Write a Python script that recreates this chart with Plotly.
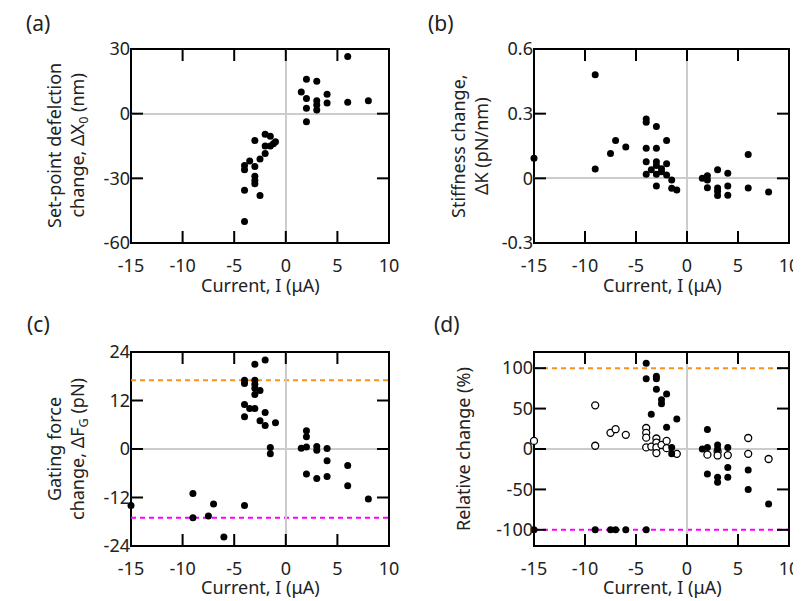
import plotly.graph_objects as go

# ---------------- data ----------------
# (a) set-point deflection change (nm)
a_x = [6, 2, 3, 1.5, 4, 2, 3, 3, 4, 6, 8, 2, 3, 2,
       -2, -1.5, -3, -1, -1.2, -1.5, -2, -2, -2.5, -3.5, -3, -4, -4, -3, -3, -3, -4, -2.5, -4]
a_y = [26.5, 16, 15, 10, 9, 7, 6, 4, 5, 5.3, 6, 2.5, 1.7, -3.7,
       -9.5, -10.5, -12.5, -13, -14, -15, -15, -18.5, -21, -22, -24.5, -24, -26, -29, -31, -32.5, -35.5, -38, -50]

# (b) stiffness change (pN/nm)
b_x = [-15, -9, -9, -4, -4, -3, -7, -2, -6, -4, -3, -7.5, 6, -4, -3, -2, -3, -2.5, -3.5, -2.5,
       -4, -3, -2, -1.5, -3, -1.5, -1,
       1.5, 2, 2, 2, 3, 4, 3, 3, 3, 4, 4, 6, 8]
b_y = [0.093, 0.48, 0.043, 0.275, 0.26, 0.24, 0.175, 0.175, 0.145, 0.14, 0.14, 0.115, 0.11, 0.077, 0.077, 0.068,
       0.06, 0.045, 0.04, 0.03,
       0.019, 0.019, 0.015, -0.008, -0.036, -0.046, -0.054,
       0.0, 0.012, -0.008, -0.044, 0.04, 0.024, -0.045, -0.06, -0.08, -0.035, -0.078, -0.045, -0.063]

# (c) gating force change (pN)
c_x = [-2, -3, -4, -4, -3, -3, -3, -3, -2.5, -4, -3.5, -3, -4, -2, -2.5, -2, -1, -1.5, -1.5,
       2, 2, 1.5, 2, 3, 3, 4, 4, 2, 3, 4, 6, 6, 8,
       -15, -9, -9, -7.5, -7, -6, -4]
c_y = [22, 21, 17, 16.2, 17, 16, 15, 13.5, 14.5, 11, 10, 10, 8, 9, 7, 5.8, 6.5, 0.4, -1.2,
       4.5, 3, 0.2, 0.5, 0.6, -0.3, 0.15, -2.9, -6.2, -7.3, -6.8, -4.1, -9.1, -12.4,
       -14, -11, -17, -16.6, -13.6, -21.8, -14]
c_upper = 17
c_lower = -17

# (d) relative change (%) : filled series and open series
d_fill_x = [-4, -4, -3, -3, -3, -2, -2.5, -2.5, -3.5, -1, -2, -1.5, -1.5,
            -15, -9, -7.5, -7, -6, -4,
            1.5, 2, 2, 2, 3, 3, 3, 3, 4, 4, 4, 6, 6, 8]
d_fill_y = [106, 87, 90, 87, 74, 68, 61, 56, 43, 37, 27, 2, -6,
            -100, -100, -100, -100, -100, -100,
            0, 24, 2, -31, 5, 0, -35, -41, 2, -23, -35, -26, -50, -68]
d_open_x = [-15, -9, -9, -7.5, -7, -6, -4, -4, -4, -4, -3.5, -3, -3, -3, -3, -2.5, -2, -2, -1,
            2, 3, 3, 4, 6, 6, 8]
d_open_y = [10, 54, 4, 20, 24.5, 17.5, 26, 20, 14, 2, 3, 13, 8, 2, -5, 5, 10, 1, -6,
            -7, -3, -8, -7.5, 13.6, -6, -12.4]
d_upper = 100
d_lower = -100

x_range = [-15, 10]
x_ticks = [-15, -10, -5, 0, 5, 10]
x_ticktext = ["-15", "-10", "-5", "0", "5", "10"]
a_range = [-60, 30]
a_ticks = [-60, -30, 0, 30]
a_ticktext = ["-60", "-30", "0", "30"]
b_range = [-0.3, 0.6]
b_ticks = [-0.3, 0, 0.3, 0.6]
b_ticktext = ["-0.3", "0", "0.3", "0.6"]
c_range = [-24, 24]
c_ticks = [-24, -12, 0, 12, 24]
c_ticktext = ["-24", "-12", "0", "12", "24"]
d_range = [-120, 120]
d_ticks = [-100, -50, 0, 50, 100]
d_ticktext = ["-100", "-50", "0", "50", "100"]

x_title = "Current, I (μA)"
# ---------------------------------------

OFF = 8  # page body margin of the html page
W, H = 801 - OFF, 601 - OFF
FONT = "Noto Sans"
TXT = "#222222"
ORANGE = "#F7941D"
MAGENTA = "#FF00FF"
TICKLEN = 12
CLEAR = "rgba(0,0,0,0)"

def px(xp):
    return (xp - OFF) / W

def py(yp):
    return 1 - (yp - OFF) / H

dom_x_left = [px(131), px(389)]
dom_x_right = [px(534), px(789)]
dom_y_top = [py(243), py(49)]
dom_y_bot = [py(546), py(352)]

fig = go.Figure()

def add_pts(x, y, xa, ya, open_=False):
    fig.add_trace(go.Scatter(
        x=x, y=y, mode="markers", xaxis=xa, yaxis=ya, cliponaxis=False,
        marker=dict(size=7, color="white" if open_ else "black", opacity=1,
                    line=dict(color="black", width=1.3 if open_ else 0)),
        showlegend=False))

add_pts(a_x, a_y, "x", "y")
add_pts(b_x, b_y, "x2", "y2")
add_pts(c_x, c_y, "x3", "y3")
add_pts(d_open_x, d_open_y, "x4", "y4", open_=True)
add_pts(d_fill_x, d_fill_y, "x4", "y4")

common_axis = dict(
    showline=False, ticks="", showgrid=False,
    zeroline=True, zerolinecolor="#cccccc", zerolinewidth=2,
    tickfont=dict(family=FONT, size=18, color=TXT), tickmode="array",
)

def xaxis(dom, anchor):
    return dict(common_axis, domain=dom, anchor=anchor, range=x_range,
                tickvals=x_ticks, ticktext=x_ticktext, ticklabelstandoff=10)

def yaxis(dom, anchor, rng, tv, tt):
    return dict(common_axis, domain=dom, anchor=anchor, range=rng,
                tickvals=tv, ticktext=tt, ticklabelstandoff=0)

fig.update_layout(
    template="none",
    width=W, height=H, margin=dict(l=0, r=0, t=0, b=0),
    paper_bgcolor="white", plot_bgcolor=CLEAR,
    font=dict(family=FONT, color=TXT),
    xaxis=xaxis(dom_x_left, "y"),
    yaxis=yaxis(dom_y_top, "x", a_range, a_ticks, a_ticktext),
    xaxis2=xaxis(dom_x_right, "y2"),
    yaxis2=yaxis(dom_y_top, "x2", b_range, b_ticks, b_ticktext),
    xaxis3=xaxis(dom_x_left, "y3"),
    yaxis3=yaxis(dom_y_bot, "x3", c_range, c_ticks, c_ticktext),
    xaxis4=xaxis(dom_x_right, "y4"),
    yaxis4=yaxis(dom_y_bot, "x4", d_range, d_ticks, d_ticktext),
)

# frame (paper coords from the domains) and inside ticks on all four sides
panels = [("x", "y", dom_x_left, dom_y_top, a_ticks),
          ("x2", "y2", dom_x_right, dom_y_top, b_ticks),
          ("x3", "y3", dom_x_left, dom_y_bot, c_ticks),
          ("x4", "y4", dom_x_right, dom_y_bot, d_ticks)]
black = dict(color="black", width=2)
tl_x = TICKLEN / W   # tick length in paper fraction (horizontal)
tl_y = TICKLEN / H   # tick length in paper fraction (vertical)
for xa, ya, dx, dy, yticks in panels:
    fig.add_shape(type="rect", xref="paper", yref="paper", x0=dx[0], x1=dx[1], y0=dy[0], y1=dy[1],
                  line=black, fillcolor=CLEAR, opacity=1, layer="below")
    for t in x_ticks[1:-1]:
        fig.add_shape(type="line", xref=xa, yref="paper", x0=t, x1=t, y0=dy[0], y1=dy[0] + tl_y,
                      line=black, opacity=1, layer="above")
        fig.add_shape(type="line", xref=xa, yref="paper", x0=t, x1=t, y0=dy[1], y1=dy[1] - tl_y,
                      line=black, opacity=1, layer="above")
    for t in yticks:
        fig.add_shape(type="line", xref="paper", yref=ya, x0=dx[0], x1=dx[0] + tl_x, y0=t, y1=t,
                      line=black, opacity=1, layer="above")
        fig.add_shape(type="line", xref="paper", yref=ya, x0=dx[1], x1=dx[1] - tl_x, y0=t, y1=t,
                      line=black, opacity=1, layer="above")

# dashed reference lines
for xa, ya, val, col in [("x3", "y3", c_upper, ORANGE), ("x3", "y3", c_lower, MAGENTA),
                         ("x4", "y4", d_upper, ORANGE), ("x4", "y4", d_lower, MAGENTA)]:
    fig.add_shape(type="line", xref=xa, yref=ya, x0=x_range[0], x1=x_range[1], y0=val, y1=val,
                  line=dict(color=col, width=2, dash="5px,4px"), opacity=1, layer="below")

# annotations: panel labels and axis titles
ann = []
for lab, xp, yp in [("(a)", 38, 23), ("(b)", 441, 23), ("(c)", 38, 324), ("(d)", 447, 324)]:
    ann.append(dict(text=lab, x=px(xp), y=py(yp), xref="paper", yref="paper",
                    showarrow=False, xanchor="center", yanchor="middle",
                    font=dict(family=FONT, size=21, color=TXT)))
for xc, yc in [(260, 285), (662, 285), (260, 587), (662, 587)]:
    ann.append(dict(text=x_title, x=px(xc), y=py(yc), xref="paper", yref="paper",
                    showarrow=False, xanchor="center", yanchor="middle",
                    font=dict(family=FONT, size=18, color=TXT)))
for text, xc, yc in [("Set-point defelction<br>change, ΔX<sub>0</sub> (nm)", 67, 146),
                     ("Stiffness change,<br>ΔK (pN/nm)", 469, 146),
                     ("Gating force<br>change, ΔF<sub>G</sub> (pN)", 67, 449),
                     ("Relative change (%)", 463, 449)]:
    ann.append(dict(text=text, x=px(xc), y=py(yc), xref="paper", yref="paper",
                    showarrow=False, xanchor="center", yanchor="middle", textangle=-90,
                    font=dict(family=FONT, size=18, color=TXT)))
fig.update_layout(annotations=ann)

fig.write_html("out.html")
